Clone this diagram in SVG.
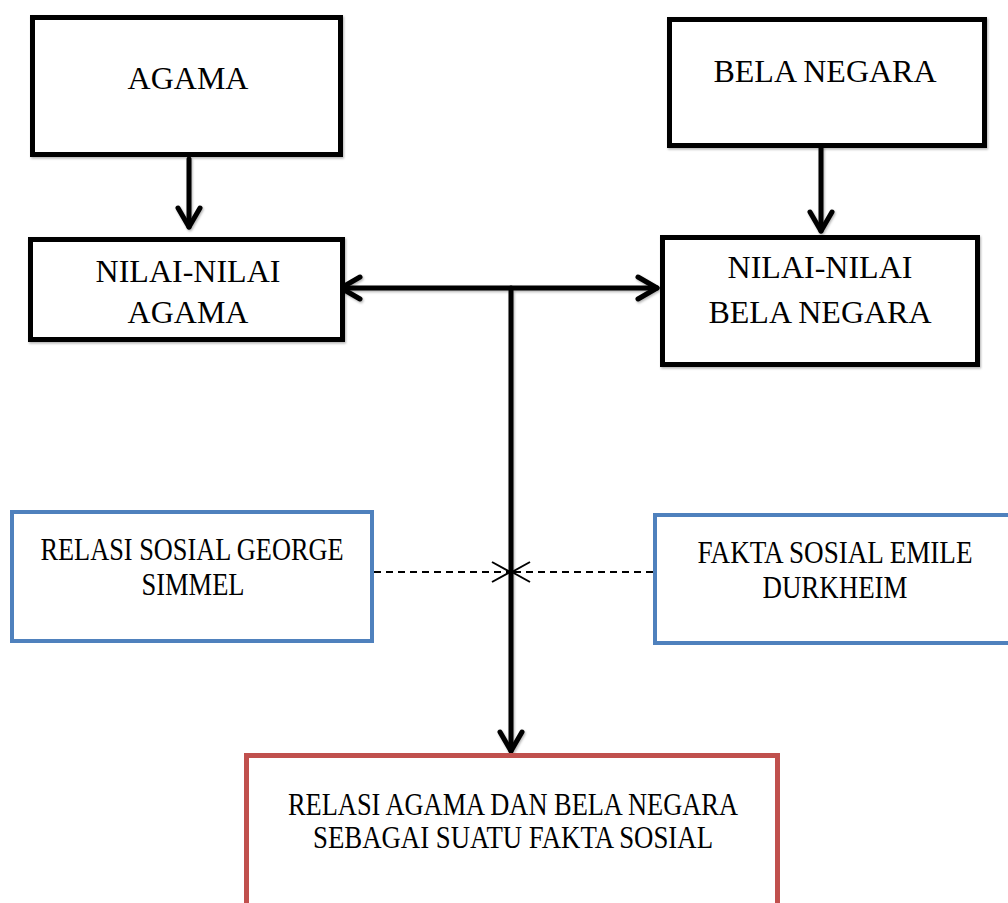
<svg xmlns="http://www.w3.org/2000/svg" width="1008" height="903" viewBox="0 0 1008 903">
  <style>
    .blk { fill: #ffffff; stroke: #000000; stroke-width: 5; }
    .blue { fill: #ffffff; stroke: #4F81BD; stroke-width: 4; }
    .red { fill: #ffffff; stroke: #C0504D; stroke-width: 5; }
    .t1 { font-family: "Liberation Serif", "Times New Roman", serif; font-size: 32px; fill: #000000; text-anchor: middle; }
    .t2 { font-family: "Liberation Serif", "Times New Roman", serif; font-size: 31px; fill: #000000; text-anchor: middle; }
    .conn { fill: none; stroke: #000000; stroke-width: 5; stroke-linecap: round; }
    .dash { fill: none; stroke: #000000; stroke-width: 2; stroke-dasharray: 7 5; }
  </style>
  <defs>
    <filter id="sh" x="-20%" y="-20%" width="140%" height="140%">
      <feDropShadow dx="1" dy="1.5" stdDeviation="1.2" flood-color="#000000" flood-opacity="0.3"/>
    </filter>
    <marker id="ah" markerUnits="userSpaceOnUse" viewBox="-26 -16 30 32" refX="0" refY="0" markerWidth="30" markerHeight="32" orient="auto-start-reverse">
      <path d="M-19,-11 L0,0 L-19,11" fill="none" stroke="#000000" stroke-width="5" stroke-linecap="round" stroke-linejoin="round"/>
    </marker>
    <marker id="ahs" markerUnits="userSpaceOnUse" viewBox="-22 -12 24 24" refX="0" refY="0" markerWidth="24" markerHeight="24" orient="auto">
      <path d="M-18,-10 L0,0 L-18,10" fill="none" stroke="#000000" stroke-width="2"/>
    </marker>
  </defs>

  <g id="connectors">
    <g filter="url(#sh)">
      <line class="conn" x1="189" y1="159" x2="189" y2="227" marker-end="url(#ah)"/>
      <line class="conn" x1="821" y1="148" x2="821" y2="231" marker-end="url(#ah)"/>
      <line class="conn" x1="341" y1="288" x2="657" y2="288" marker-start="url(#ah)" marker-end="url(#ah)"/>
      <line class="conn" x1="511" y1="288" x2="511" y2="751" marker-end="url(#ah)"/>
    </g>
    <line class="dash" x1="374" y1="572" x2="510" y2="572" marker-end="url(#ahs)"/>
    <line class="dash" x1="653" y1="572" x2="512" y2="572" marker-end="url(#ahs)"/>
  </g>

  <g id="agama">
    <rect class="blk" x="32.5" y="17.5" width="308" height="137" filter="url(#sh)"/>
    <text class="t1" x="188" y="89">AGAMA</text>
  </g>

  <g id="nilai-agama">
    <rect class="blk" x="30.5" y="239.5" width="312" height="100" filter="url(#sh)"/>
    <text class="t1" x="188" y="282">NILAI-NILAI</text>
    <text class="t1" x="188" y="323">AGAMA</text>
  </g>

  <g id="bela-negara">
    <rect class="blk" x="669.5" y="19.5" width="315" height="126" filter="url(#sh)"/>
    <text class="t1" x="825" y="82">BELA NEGARA</text>
  </g>

  <g id="nilai-bela-negara">
    <rect class="blk" x="662.5" y="237.5" width="315" height="127" filter="url(#sh)"/>
    <text class="t1" x="820" y="278">NILAI-NILAI</text>
    <text class="t1" x="820" y="323">BELA NEGARA</text>
  </g>

  <g id="relasi-simmel">
    <rect class="blue" x="12" y="512" width="360" height="129"/>
    <text class="t2" x="192" y="560" textLength="303" lengthAdjust="spacingAndGlyphs">RELASI SOSIAL GEORGE</text>
    <text class="t2" x="193" y="595" textLength="103" lengthAdjust="spacingAndGlyphs">SIMMEL</text>
  </g>

  <g id="fakta-durkheim">
    <rect class="blue" x="655" y="515" width="362" height="128"/>
    <text class="t2" x="835" y="563" textLength="275" lengthAdjust="spacingAndGlyphs">FAKTA SOSIAL EMILE</text>
    <text class="t2" x="835" y="598" textLength="145" lengthAdjust="spacingAndGlyphs">DURKHEIM</text>
  </g>

  <g id="relasi-agama-bela-negara">
    <rect class="red" x="246.5" y="755.5" width="531" height="200"/>
    <text class="t2" x="513" y="815" textLength="450" lengthAdjust="spacingAndGlyphs">RELASI AGAMA DAN BELA NEGARA</text>
    <text class="t2" x="513" y="848" textLength="400" lengthAdjust="spacingAndGlyphs">SEBAGAI SUATU FAKTA SOSIAL</text>
  </g>
</svg>
